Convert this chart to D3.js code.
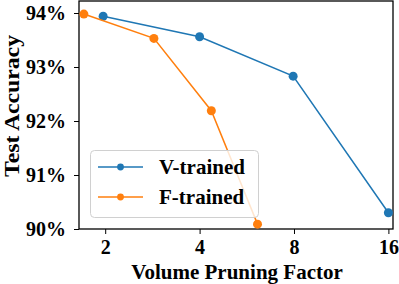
<!DOCTYPE html>
<html>
<head>
<meta charset="utf-8">
<script src="https://cdn.jsdelivr.net/npm/d3@7"></script>
<style>
  body { margin: 0; background: #fff; }
  text { font-family: "Liberation Serif", "Times New Roman", serif; font-weight: bold; }
</style>
</head>
<body>
<script>
"use strict"

/* dati */
const vFattori = [1.97, 4.0, 7.95, 16.0];
const vAccuratezza = [93.94, 93.56, 92.83, 90.30];
const fFattori = [1.71, 2.86, 4.36, 6.12];
const fAccuratezza = [93.98, 93.53, 92.19, 90.09];
const tickX = [2, 4, 8, 16];
const tickY = [90, 91, 92, 93, 94];
const serie = [
    { nome: "V-trained", colore: "#1f77b4", x: vFattori, y: vAccuratezza },
    { nome: "F-trained", colore: "#ff7f0e", x: fFattori, y: fAccuratezza }
];

const grafico = { larghezza: 399, altezza: 284 };
const margine = { sinistra: 79, destra: 6, alto: 1, basso: 55 };

const svg = d3.select("body").append("svg")
    .attr("width", grafico.larghezza)
    .attr("height", grafico.altezza);

/* scala logaritmica in base 2 sull'asse x */
const x = d3.scaleLog().base(2)
    .domain([1.65, 16.55])
    .range([margine.sinistra, grafico.larghezza - margine.destra]);
const y = d3.scaleLinear()
    .domain([90, 94 + 12 / 54])
    .range([grafico.altezza - margine.basso, margine.alto]);

/* assi */
const asseX = svg.append("g")
    .attr("transform", "translate(0," + (grafico.altezza - margine.basso) + ")")
    .call(d3.axisBottom(x).tickValues(tickX).tickFormat(d3.format("d")).tickSize(5).tickPadding(6));
const asseY = svg.append("g")
    .attr("transform", "translate(" + margine.sinistra + ",0)")
    .call(d3.axisLeft(y).tickValues(tickY).tickFormat(function (d) { return d + "%" }).tickSize(5).tickPadding(8));
svg.selectAll(".tick text").attr("font-size", 20).attr("fill", "#000")
    .style("font-family", "'Liberation Serif', serif").style("font-weight", "bold");
svg.selectAll(".tick line").attr("stroke", "#000").attr("stroke-width", 1);
svg.selectAll(".domain").remove();
asseY.selectAll(".tick text").attr("dy", "0.33em");

/* cornice */
svg.append("rect")
    .attr("x", margine.sinistra)
    .attr("y", margine.alto)
    .attr("width", grafico.larghezza - margine.destra - margine.sinistra)
    .attr("height", grafico.altezza - margine.basso - margine.alto)
    .attr("fill", "none")
    .attr("stroke", "#000")
    .attr("stroke-width", 1.3);

/* linee e punti */
const linea = d3.line()
    .x(function (d) { return x(d[0]) })
    .y(function (d) { return y(d[1]) });
serie.forEach(function (s) {
    const punti = s.x.map(function (v, i) { return [v, s.y[i]] });
    svg.append("path")
        .attr("d", linea(punti))
        .attr("fill", "none")
        .attr("stroke", s.colore)
        .attr("stroke-width", 1.5);
    svg.selectAll(null)
        .data(punti)
        .enter()
        .append("circle")
        .attr("cx", function (d) { return x(d[0]) })
        .attr("cy", function (d) { return y(d[1]) })
        .attr("r", 4.5)
        .attr("fill", s.colore);
});

/* etichette degli assi */
svg.append("text")
    .attr("x", 237)
    .attr("y", 279)
    .attr("text-anchor", "middle")
    .attr("font-size", 21)
    .text("Volume Pruning Factor");
svg.append("text")
    .attr("transform", "translate(19.3,106) rotate(-90)")
    .attr("text-anchor", "middle")
    .attr("font-size", 21.5)
    .attr("textLength", 142)
    .attr("lengthAdjust", "spacingAndGlyphs")
    .text("Test Accuracy");

/* legenda */
const legenda = svg.append("g").attr("transform", "translate(90,150)");
legenda.append("rect")
    .attr("x", 0.5).attr("y", 0.5)
    .attr("width", 168).attr("height", 67)
    .attr("rx", 4)
    .attr("fill", "#fff")
    .attr("fill-opacity", 0.8)
    .attr("stroke", "#d0d0d0")
    .attr("stroke-width", 1);
const voci = legenda.selectAll("g.voce")
    .data(serie)
    .enter()
    .append("g")
    .attr("class", "voce")
    .attr("transform", function (d, i) { return "translate(0," + (17 + i * 30) + ")" });
voci.append("line")
    .attr("x1", 8).attr("x2", 53)
    .attr("stroke", function (d) { return d.colore })
    .attr("stroke-width", 1.5);
voci.append("circle")
    .attr("cx", 30.5)
    .attr("r", 3.4)
    .attr("fill", function (d) { return d.colore });
voci.append("text")
    .attr("x", 69)
    .attr("dy", "0.35em")
    .attr("font-size", 21)
    .text(function (d) { return d.nome });
</script>
</body>
</html>
